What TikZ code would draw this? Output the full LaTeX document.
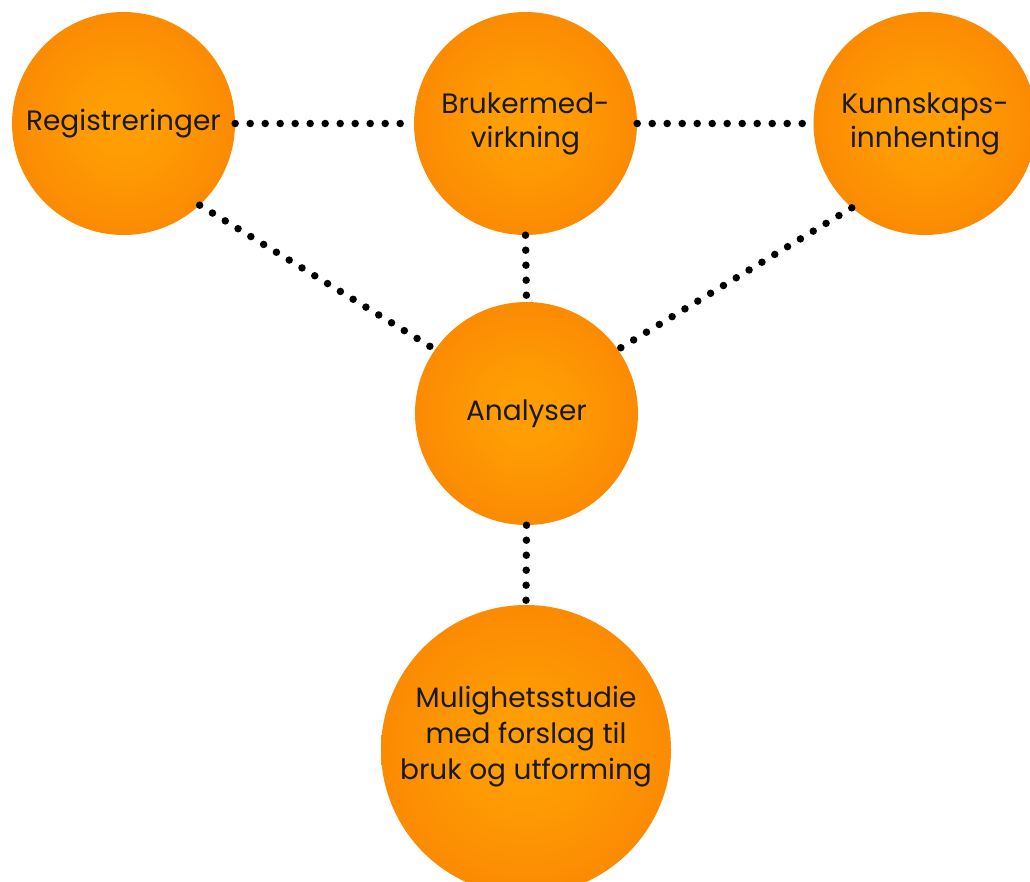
\documentclass[tikz,border=0pt]{standalone}
\usepackage{fontspec}
\setmainfont{Poppins}
\definecolor{orIn}{RGB}{255,158,4}
\definecolor{orOut}{RGB}{246,114,0}
\pgfdeclareradialshading{ballshade}{\pgfpoint{0bp}{0bp}}{color(0bp)=(orIn); color(6bp)=(orIn); color(50bp)=(orOut); color(100bp)=(orOut)}
\tikzset{
  ball/.style={circle, inner sep=0pt, minimum size=223pt, shade, shading=ballshade, align=center, text=black!90, font=\fontsize{28}{34}\selectfont},
  dotline/.style={line width=7.5pt, line cap=round, dash pattern=on 0pt off 15pt, black}
}
\begin{document}
\begin{tikzpicture}[x=1pt,y=-1pt]
\useasboundingbox (0,0) rectangle (1030,881);
\node[ball] (reg) at (123.5,123.5) {Registreringer};
\node[ball] (bru) at (525.5,123.5) {Brukermed-\\virkning};
\node[ball] (kun) at (925,123.5) {Kunnskaps-\\innhenting};
\node[ball] (ana) at (526.5,413.5) {Analyser};
\node[ball, minimum size=290pt, label={[yshift=13pt, align=center, font=\fontsize{28}{36}\selectfont, text=black!90]center:Mulighetsstudie\\med forslag til\\bruk og utforming}] (mul) at (526,750) {};
\draw[dotline] (reg.east) -- (bru.west);
\draw[dotline] (bru.east) -- (kun.west);
\draw[dotline] (bru.south) -- (ana.north);
\draw[dotline] (reg.-47) -- (ana.145);
\draw[dotline] (kun.-131) -- (ana.35);
\draw[dotline] (ana.south) -- (mul.north);
\end{tikzpicture}
\end{document}
